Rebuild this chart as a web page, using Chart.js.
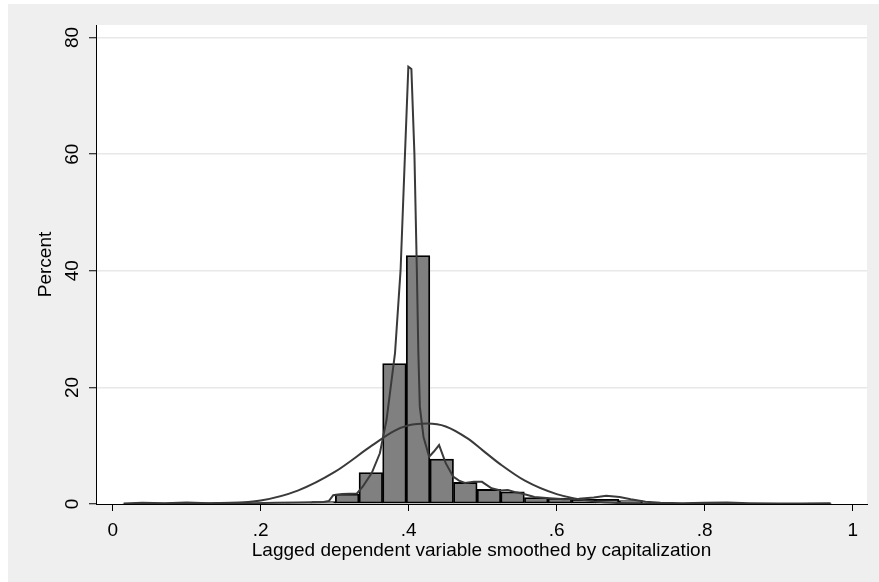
<!DOCTYPE html>
<html>
<head>
<meta charset="utf-8">
<script src="https://cdn.jsdelivr.net/npm/chart.js@4.4.1/dist/chart.umd.min.js"></script>
<style>
  html, body { margin: 0; padding: 0; background: #ffffff; }
  #wrap { position: absolute; left: 8px; top: 4px; width: 871px; height: 578px; background: #efefef; }
</style>
</head>
<body>
<div id="wrap"><canvas id="grafico" width="871" height="578"></canvas></div>
<script>
// histogram bins (centres) and percent per bin
var binCentros = [0.0295, 0.0614, 0.0934, 0.1253, 0.1572, 0.1891, 0.2211, 0.2530, 0.2849, 0.3168,
  0.3488, 0.3807, 0.4126, 0.4446, 0.4765, 0.5084, 0.5403, 0.5723, 0.6042, 0.6361,
  0.6681, 0.7000, 0.7319, 0.7638, 0.7958, 0.8277, 0.8596, 0.8916, 0.9235, 0.9554];
var binPercent = [0.15, 0.2, 0.2, 0.25, 0.15, 0.1, 0.2, 0.25, 0.4, 1.7,
  5.4, 24.1, 42.6, 7.7, 3.7, 2.5, 2.1, 1.1, 1.0, 0.8,
  0.8, 0.6, 0.2, 0.15, 0.2, 0.15, 0.1, 0.1, 0.1, 0.15];

// kernel density line
var kdeX = [0.015, 0.04, 0.07, 0.10, 0.13, 0.16, 0.19, 0.22, 0.25, 0.27, 0.285, 0.292, 0.298, 0.31, 0.33,
  0.338, 0.35, 0.361, 0.370, 0.3815, 0.389, 0.395, 0.3995, 0.4036, 0.4077, 0.411, 0.413, 0.415, 0.420,
  0.4276, 0.434, 0.441, 0.450, 0.460, 0.468, 0.476, 0.488, 0.499, 0.512, 0.524, 0.534, 0.545, 0.553,
  0.57, 0.59, 0.61, 0.63, 0.65, 0.667, 0.685, 0.70, 0.72, 0.74, 0.77, 0.80, 0.83, 0.86, 0.90, 0.93, 0.97];
var kdeY = [0.1, 0.2, 0.15, 0.25, 0.15, 0.2, 0.15, 0.2, 0.25, 0.3, 0.35, 0.5, 1.5, 1.7, 1.8,
  3.0, 5.3, 8.7, 14.4, 25.9, 40.1, 60.2, 75.0, 74.6, 60, 40, 26, 16.7, 11.5,
  8.1, 9.0, 10.1, 7.0, 4.7, 4.0, 3.6, 3.8, 3.8, 2.7, 2.3, 2.4, 2.0, 1.8,
  1.2, 1.0, 0.8, 0.9, 1.1, 1.4, 1.2, 0.8, 0.4, 0.2, 0.15, 0.2, 0.25, 0.15, 0.1, 0.1, 0.15];

// normal density overlay
var normalX = [0.015, 0.10, 0.15, 0.20, 0.25, 0.30, 0.35, 0.38, 0.40, 0.425, 0.45, 0.48, 0.50, 0.524, 0.557, 0.60, 0.65, 0.70, 0.75, 0.85, 0.97];
var normalY = [0.0, 0.02, 0.12, 0.6, 2.3, 5.5, 10.0, 12.5, 13.5, 13.8, 13.3, 11.2, 9.2, 6.8, 4.0, 1.7, 0.45, 0.1, 0.02, 0.0, 0.0];

var xTicks = [0, 0.2, 0.4, 0.6, 0.8, 1];
var xTickLabels = ['0', '.2', '.4', '.6', '.8', '1'];
var yTicks = [0, 20, 40, 60, 80];

function pares(xs, ys) {
  var out = [];
  for (var i = 0; i < xs.length; i++) out.push({ x: xs[i], y: ys[i] });
  return out;
}

var fundoBranco = {
  id: 'fundoBranco',
  beforeDraw: function (chart) {
    var a = chart.chartArea;
    chart.ctx.save();
    chart.ctx.fillStyle = '#ffffff';
    chart.ctx.fillRect(a.left, a.top, a.right - a.left, a.bottom - a.top);
    chart.ctx.restore();
  }
};

var fonte = { family: "'Liberation Sans', Arial, sans-serif", size: 19 };

const ctx = document.getElementById('grafico');

const myChart = new Chart(ctx, {
  type: 'bar',
  data: {
    datasets: [{
      type: 'line',
      data: pares(kdeX, kdeY),
      borderColor: '#3a3a3a',
      borderWidth: 2,
      pointRadius: 0,
      tension: 0,
      order: 0
    }, {
      type: 'line',
      data: pares(normalX, normalY),
      borderColor: '#3a3a3a',
      borderWidth: 2,
      pointRadius: 0,
      cubicInterpolationMode: 'monotone',
      order: 1
    }, {
      type: 'bar',
      data: pares(binCentros, binPercent),
      backgroundColor: '#808080',
      borderColor: '#000000',
      borderWidth: 1.8,
      borderSkipped: false,
      barPercentage: 1,
      categoryPercentage: 1,
      order: 2
    }]
  },
  options: {
    responsive: false,
    animation: false,
    layout: { padding: { left: 0, top: 21, right: 12, bottom: 0 } },
    plugins: {
      legend: { display: false },
      tooltip: { enabled: false }
    },
    scales: {
      x: {
        type: 'linear',
        min: -0.0226,
        max: 1.0193,
        offset: false,
        afterBuildTicks: function (scale) {
          scale.ticks = xTicks.map(function (v) { return { value: v }; });
        },
        afterFit: function (scale) { scale.height = 78; },
        ticks: {
          color: '#000',
          font: fonte,
          padding: 8,
          maxRotation: 0,
          callback: function (v) {
            var i = xTicks.indexOf(v);
            return i >= 0 ? xTickLabels[i] : '';
          }
        },
        grid: { offset: false, drawOnChartArea: false, tickLength: 7, tickColor: '#000', tickWidth: 1 },
        border: { color: '#000', width: 1 },
        title: {
          display: true,
          text: 'Lagged dependent variable smoothed by capitalization',
          color: '#000',
          font: fonte,
          padding: { top: 0, bottom: 20 }
        }
      },
      y: {
        min: 0,
        max: 82.15,
        afterBuildTicks: function (scale) {
          scale.ticks = yTicks.map(function (v) { return { value: v }; });
        },
        afterFit: function (scale) { scale.width = 88; },
        ticks: {
          color: '#000',
          font: fonte,
          padding: 6,
          minRotation: 90,
          maxRotation: 90,
          crossAlign: 'center'
        },
        grid: {
          color: function (c) { return c.tick && c.tick.value === 0 ? 'rgba(0,0,0,0)' : '#e8e8e8'; },
          lineWidth: 1.5,
          tickLength: 7,
          tickColor: '#000',
          tickWidth: 1
        },
        border: { color: '#000', width: 1 },
        title: {
          display: true,
          text: 'Percent',
          color: '#000',
          font: fonte,
          padding: { top: 26, bottom: 0 }
        }
      }
    }
  },
  plugins: [fundoBranco]
});
</script>
</body>
</html>
